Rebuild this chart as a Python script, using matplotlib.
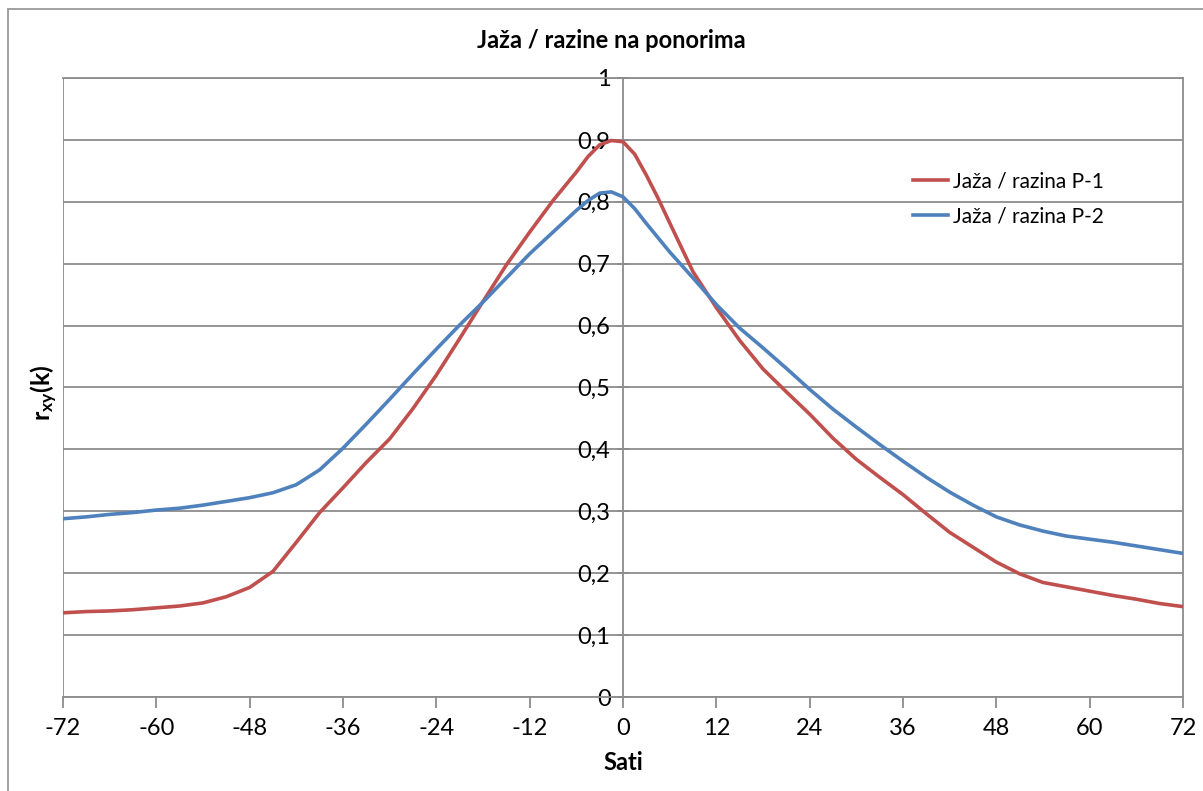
import os

os.environ.setdefault("MPLCONFIGDIR", "/tmp/matplotlib")

import matplotlib

matplotlib.use("Agg")
import matplotlib.pyplot as plt
from matplotlib.patches import Rectangle
from matplotlib.ticker import FuncFormatter, MultipleLocator

plt.rcParams["font.family"] = ["Lato", "DejaVu Sans"]
plt.rcParams["mathtext.fontset"] = "custom"
plt.rcParams["mathtext.rm"] = "Lato"
plt.rcParams["mathtext.bf"] = "Lato:bold"
plt.rcParams["axes.unicode_minus"] = False

# Lag in hours
HOURS = [-72, -69, -66, -63, -60, -57, -54, -51, -48, -45, -42, -39, -36,
         -33, -30, -27, -24, -21, -18, -15, -12, -9, -6, -4.5, -3, -1.5, 0,
         1.5, 3, 4.5, 6, 9, 12, 15, 18, 21, 24, 27, 30, 33, 36, 39, 42, 45,
         48, 51, 54, 57, 60, 63, 66, 69, 72]

P1 = [0.136, 0.138, 0.139, 0.141, 0.144, 0.147, 0.152, 0.162, 0.177, 0.203,
      0.250, 0.298, 0.338, 0.379, 0.417, 0.466, 0.520, 0.579, 0.639, 0.698,
      0.751, 0.802, 0.848, 0.873, 0.892, 0.899, 0.897, 0.877, 0.843, 0.806,
      0.766, 0.687, 0.629, 0.576, 0.530, 0.493, 0.457, 0.418, 0.384, 0.355,
      0.327, 0.296, 0.266, 0.242, 0.218, 0.199, 0.185, 0.178, 0.171, 0.164,
      0.158, 0.151, 0.146]

P2 = [0.288, 0.291, 0.295, 0.298, 0.302, 0.305, 0.310, 0.316, 0.322, 0.330,
      0.343, 0.367, 0.402, 0.441, 0.481, 0.522, 0.562, 0.601, 0.638, 0.677,
      0.716, 0.751, 0.786, 0.802, 0.814, 0.816, 0.808, 0.789, 0.765, 0.742,
      0.719, 0.677, 0.634, 0.596, 0.564, 0.531, 0.497, 0.465, 0.436, 0.408,
      0.381, 0.355, 0.331, 0.310, 0.291, 0.278, 0.268, 0.260, 0.255, 0.250,
      0.244, 0.238, 0.232]

LABELS = ["Jaža / razina P-1", "Jaža / razina P-2"]
TITLE = "Jaža / razine na ponorima"
XLABEL = "Sati"

RED = "#C0504D"
BLUE = "#4F81BD"
GRID = "#8c8c8c"

W, H = 1203, 791
fig = plt.figure(figsize=(W / 100, H / 100), dpi=100)
fig.patch.set_facecolor("white")

# outer chart-area frame (runs off the right and bottom edge)
fig.patches.append(Rectangle((8 / W, -0.2), 1.2, 1.2 - 9 / H,
                             transform=fig.transFigure, fill=False,
                             edgecolor="#9a9a9a", linewidth=1.3))

ax = fig.add_axes([63 / W, 1 - 697 / H, 1120 / W, 619 / H])

ax.plot(HOURS, P1, color=RED, linewidth=2.6, label=LABELS[0], zorder=3)
ax.plot(HOURS, P2, color=BLUE, linewidth=2.6, label=LABELS[1], zorder=3)

ax.set_xlim(-72, 72)
ax.set_ylim(0, 1)
ax.xaxis.set_major_locator(MultipleLocator(12))
ax.yaxis.set_major_locator(MultipleLocator(0.1))


def comma_fmt(v, _):
    if abs(v) < 1e-9 or abs(v - 1) < 1e-9:
        return f"{int(round(v))}"
    return f"{v:.1f}".replace(".", ",")


ax.yaxis.set_major_formatter(FuncFormatter(comma_fmt))

ax.grid(axis="y", color=GRID, linewidth=1.3, zorder=1)

# y axis sits at x = 0, frame drawn at both ends
ax.spines["left"].set_position(("data", 0))
for side in ["left", "bottom", "top", "right"]:
    ax.spines[side].set_color(GRID)
    ax.spines[side].set_linewidth(1.3)
ax.axvline(-72, color=GRID, linewidth=1.3, zorder=1)

ax.tick_params(axis="x", direction="out", length=8, width=1.3, color=GRID,
               labelsize=17, pad=7, labelcolor="black")
ax.tick_params(axis="y", direction="inout", length=8, width=1.3, color=GRID,
               labelsize=17, pad=5, labelcolor="black")

fig.text(611 / W, 1 - 40 / H, TITLE, ha="center", va="center",
         fontsize=17, fontweight="bold")
fig.text(623 / W, 1 - 763 / H, XLABEL, ha="center", va="center",
         fontsize=17, fontweight="bold")
fig.text(44 / W, 1 - 393 / H, r"$\mathbf{r_{xy}(k)}$", ha="center",
         va="center", rotation=90, fontsize=18)

ax.legend(loc="upper left", bbox_to_anchor=(0.742, 0.879), frameon=False,
          fontsize=15, handlelength=1.7, handletextpad=0.25, labelspacing=0.7)

fig.savefig("out.png", dpi=100)
